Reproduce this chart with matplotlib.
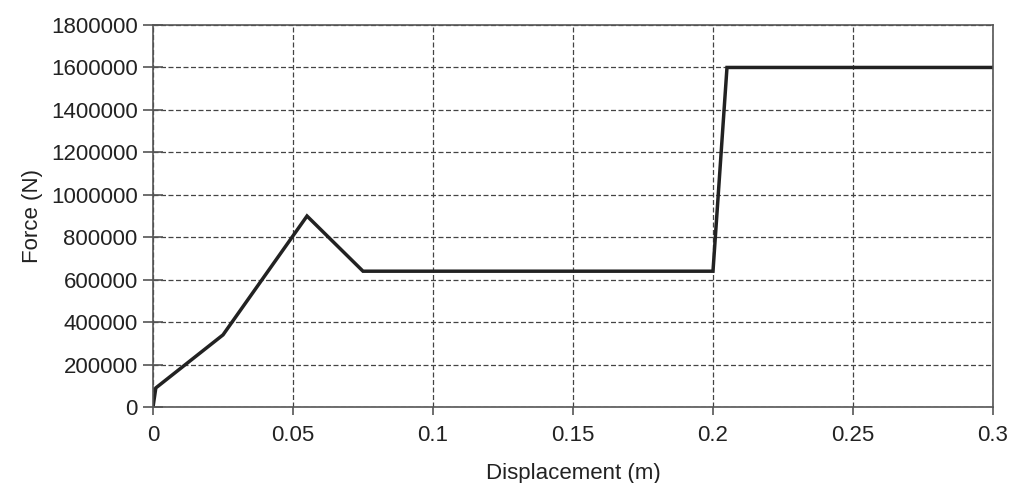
import numpy as np
from matplotlib import pyplot as plt

plt.rcParams['font.family'] = ['Liberation Sans', 'DejaVu Sans']

displacement = [0.0, 0.001, 0.025, 0.055, 0.075, 0.2, 0.205, 0.3]
force = [0, 90000, 340000, 900000, 640000, 640000, 1600000, 1600000]

x_ticks = [0, 0.05, 0.1, 0.15, 0.2, 0.25, 0.3]
x_labels = ["0", "0.05", "0.1", "0.15", "0.2", "0.25", "0.3"]
y_ticks = np.arange(0, 1800001, 200000)

fig = plt.figure(figsize=(10.12, 4.83), dpi=100)
ax = fig.add_axes([0.1512, 0.1573, 0.83, 0.7909])

ax.plot(displacement, force, color="#222222", lw=2.5, solid_joinstyle="miter")

ax.set_xlim(0, 0.3)
ax.set_ylim(0, 1800000)
ax.set_xticks(x_ticks)
ax.set_xticklabels(x_labels)
ax.set_yticks(y_ticks)
ax.set_yticklabels([str(v) for v in y_ticks])

ax.grid(True, linestyle=(0, (4, 2)), color="#444444", lw=0.9)
for s in ax.spines.values():
    s.set_color("#555555")
    s.set_linewidth(1.2)

ax.tick_params(axis="y", direction="inout", length=14, width=1.2, color="#555555",
               labelsize=16, labelcolor="#222222", pad=4)
ax.tick_params(axis="x", direction="out", length=6, width=1.2, color="#555555",
               labelsize=16, labelcolor="#222222", pad=7)

ax.set_xlabel("Displacement (m)", fontsize=16, color="#222222", labelpad=12)
ax.set_ylabel("Force (N)", fontsize=16, color="#222222", labelpad=6)

fig.savefig("out.png", dpi=100)
